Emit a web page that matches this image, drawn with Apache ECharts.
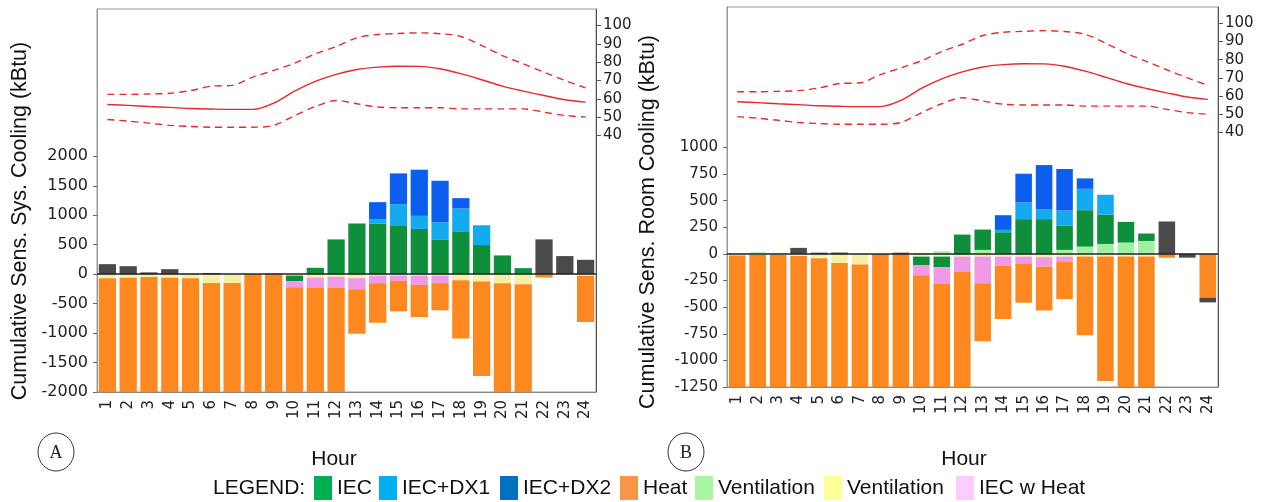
<!DOCTYPE html>
<html><head><meta charset="utf-8">
<script src="https://cdn.jsdelivr.net/npm/echarts@6/dist/echarts.min.js"></script>
<style>html,body{margin:0;padding:0;background:#fff}#c{width:1264px;height:502px}</style>
</head><body><div id="c"></div>
<script>
// ---------- data ----------
const hours = ['1','2','3','4','5','6','7','8','9','10','11','12','13','14','15','16','17','18','19','20','21','22','23','24'];
const leftTicksA = [-2000,-1500,-1000,-500,0,500,1000,1500,2000];
const leftTicksB = [-1250,-1000,-750,-500,-250,0,250,500,750,1000];
const tempTicks = [40,50,60,70,80,90,100];

// outdoor temperature (right axis)
const tempMid  = [56.9,56.4,55.8,55.3,54.7,54.4,54.2,54.2,57.6,64.2,69.5,73.3,76.0,77.3,77.8,77.7,76.4,73.7,70.4,66.9,64.2,61.8,59.5,58.2];
const tempHigh = [62.4,62.4,62.6,63.0,64.5,66.9,67.3,71.8,75.5,79.4,84.5,88.5,93.3,95.1,95.6,96.0,95.5,94.0,89.1,83.6,79.1,74.5,70.0,66.0];
const tempLow  = [48.7,47.8,46.7,45.5,44.9,44.5,44.5,44.5,45.5,50.8,55.8,59.1,57.3,55.5,55.1,55.1,55.1,54.5,54.5,54.5,54.5,52.7,50.9,50.0];

// Panel A: Cumulative Sens. Sys. Cooling (kBtu)
const aVentG   = [0,0,0,0,0,0,0,0,0,0,0,0,0,0,0,0,0,0,0,0,0,0,0,0];
const aVentY   = [-70,-60,-50,-60,-70,-150,-150,0,0,-25,-57,-45,-68,-25,-25,-25,-25,-102,-125,-153,-170,0,0,-28];
const aIEC     = [0,0,0,0,0,0,0,0,0,-97,108,590,858,858,830,767,591,716,494,318,102,0,0,0];
const aIECHeat = [0,0,0,0,0,0,0,0,0,-102,-170,-182,-188,-128,-89,-157,-128,0,0,0,0,0,0,0];
const aDX1     = [0,0,0,0,0,0,0,0,0,0,0,0,0,74,357,222,290,398,336,0,0,0,0,0];
const aDX2     = [0,0,0,0,0,0,0,0,0,0,0,0,0,290,523,784,704,176,0,0,0,0,0,0];
const aHeat    = [-1930,-1940,-1950,-1940,-1930,-1850,-1850,-2000,-2000,-1776,-1773,-1773,-755,-671,-517,-545,-461,-989,-1602,-1847,-1830,-57,0,-784];
const aOther   = [170,135,30,85,8,20,0,0,8,0,0,0,0,0,0,0,0,0,0,0,0,590,307,244];

// Panel B: Cumulative Sens. Room Cooling (kBtu)
const bVentG   = [5,15,10,0,0,0,0,0,0,8,25,0,38,0,0,0,38,69,94,107,122,0,0,0];
const bVentY   = [-15,-10,-10,-20,-40,-85,-100,0,0,-25,-25,-25,-25,-25,-25,-30,-25,-25,-25,-25,-25,0,0,0];
const bIEC     = [0,0,0,0,0,0,0,0,0,-79,-101,182,191,204,327,327,226,342,276,194,70,0,0,0];
const bIECHeat = [0,0,0,0,0,0,0,0,0,-97,-157,-145,-251,-85,-63,-89,-50,0,0,0,0,0,0,0];
const bDX1     = [0,0,0,0,0,0,0,0,0,0,0,0,0,22,157,94,144,201,186,0,0,0,0,0];
const bDX2     = [0,0,0,0,0,0,0,0,0,0,0,0,0,138,270,414,390,98,0,0,0,0,0,0];
const bHeat    = [-1235,-1240,-1240,-1230,-1210,-1165,-1150,-1250,-1250,-1049,-967,-1080,-544,-502,-370,-412,-349,-738,-1168,-1225,-1225,-35,0,-411];
const bOther   = [0,0,0,57,12,13,0,0,12,0,0,0,0,0,0,0,0,0,0,0,0,305,-35,-44];

// ---------- styles ----------
const C = {IEC:'#0f8f3c', DX1:'#14aaf0', DX2:'#0c5fee', Heat:'#fd8820', VentG:'#a0f0a2', VentY:'#f6f0a4', Pink:'#f09ae6', Other:'#4a4a4a'};
const LC = {IEC:'#00b050', DX1:'#00b0f0', DX2:'#0070c0', Heat:'#f79646', VentG:'#a9f5a2', VentY:'#ffff99', Pink:'#ffccff'};
const RED = '#e8282e';
const AXF = 'DejaVu Sans';

function barSeries(panel, name, color, data, extra) {
  const s = {
    type:'bar', name:name, stack:'s'+panel, data:data,
    xAxisIndex:panel, yAxisIndex:panel*2,
    barWidth: panel===0 ? '83%' : '81%',
    itemStyle:{color:color}, clip:true, silent:true
  };
  return Object.assign(s, extra||{});
}
function lineSeries(panel, data, dashed) {
  return {
    type:'line', data:data, xAxisIndex:panel, yAxisIndex:panel*2+1,
    showSymbol:false, symbol:'none', smooth:0.3, silent:true, z:5,
    lineStyle:{color:RED, width:1.4, type: dashed ? [7,5] : 'solid'}
  };
}
const zeroLine = {silent:true, symbol:'none', label:{show:false},
  lineStyle:{color:'#222', width:1.6, type:'solid'}, data:[{yAxis:0}]};

function panelSeries(p, d) {
  return [
    barSeries(p,'Ventilation',C.VentG,d.ventG,{markLine:zeroLine}),
    barSeries(p,'Ventilation ',C.VentY,d.ventY),
    barSeries(p,'IEC',C.IEC,d.iec),
    barSeries(p,'IEC w Heat',C.Pink,d.pink),
    barSeries(p,'IEC+DX1',C.DX1,d.dx1),
    barSeries(p,'IEC+DX2',C.DX2,d.dx2),
    barSeries(p,'Heat',C.Heat,d.heat),
    barSeries(p,'Other',C.Other,d.other),
    lineSeries(p,tempHigh,true),
    lineSeries(p,tempMid,false),
    lineSeries(p,tempLow,true)
  ];
}

const plain = function(v){ return String(v); };
const grids = [
  {left:97, top:9, width:499, height:383, show:true, borderColor:'#999', borderWidth:1},
  {left:727, top:7, width:491, height:380, show:true, borderColor:'#999', borderWidth:1}
];
function xAxis(i){
  return {type:'category', gridIndex:i, data:hours, boundaryGap:true,
    axisLine:{onZero:false, lineStyle:{color:'#888'}},
    axisTick:{alignWithLabel:true, length:4, lineStyle:{color:'#666'}},
    axisLabel:{rotate:90, margin:8, fontSize:15, fontFamily:AXF, color:'#222', interval:0},
    splitLine:{show:false}};
}
function leftAxis(i, min, max, ticks, fs){
  return {type:'value', gridIndex:i, position:'left', min:min, max:max,
    axisLine:{show:true, lineStyle:{color:'#999'}},
    axisTick:{show:true, length:4, customValues:ticks, lineStyle:{color:'#666'}},
    axisLabel:{customValues:ticks, formatter:plain, fontSize:fs, fontFamily:AXF, color:'#222', margin:9},
    splitLine:{show:false}};
}
function rightAxis(i){
  return {type:'value', gridIndex:i, position:'right', min:-100, max:109,
    axisLine:{show:true, lineStyle:{color:'#555'}},
    axisTick:{show:true, length:5, customValues:tempTicks, lineStyle:{color:'#555'}},
    axisLabel:{customValues:tempTicks, formatter:plain, fontSize:15, fontFamily:AXF, color:'#222', margin:7},
    splitLine:{show:false}};
}

// legend built from graphic elements (two distinct "Ventilation" entries)
const legendItems = [
  ['IEC', LC.IEC, 314], ['IEC+DX1', LC.DX1, 379], ['IEC+DX2', LC.DX2, 500],
  ['Heat', LC.Heat, 620], ['Ventilation', LC.VentG, 695], ['Ventilation', LC.VentY, 824],
  ['IEC w Heat', LC.Pink, 956]
];
const TXT = 'Liberation Sans';
const graphics = [
  {type:'text', x:20, y:221, rotation:Math.PI/2,
   style:{text:'Cumulative Sens. Sys. Cooling (kBtu)', font:'21.5px '+TXT, fill:'#111', textAlign:'center', textVerticalAlign:'middle'}},
  {type:'text', x:648, y:222, rotation:Math.PI/2,
   style:{text:'Cumulative Sens. Room Cooling (kBtu)', font:'21.5px '+TXT, fill:'#111', textAlign:'center', textVerticalAlign:'middle'}},
  {type:'text', x:334, y:459, style:{text:'Hour', font:'21px '+TXT, fill:'#111', textAlign:'center', textVerticalAlign:'middle'}},
  {type:'text', x:964, y:459, style:{text:'Hour', font:'21px '+TXT, fill:'#111', textAlign:'center', textVerticalAlign:'middle'}},
  {type:'ellipse', shape:{cx:56, cy:452, rx:18, ry:19}, style:{fill:'none', stroke:'#333', lineWidth:1}},
  {type:'text', x:56, y:453, style:{text:'A', font:'18px Liberation Serif', fill:'#222', textAlign:'center', textVerticalAlign:'middle'}},
  {type:'ellipse', shape:{cx:686, cy:452, rx:18, ry:19}, style:{fill:'none', stroke:'#333', lineWidth:1}},
  {type:'text', x:686, y:453, style:{text:'B', font:'18px Liberation Serif', fill:'#222', textAlign:'center', textVerticalAlign:'middle'}},
  {type:'text', x:213, y:488, style:{text:'LEGEND:', font:'21px '+TXT, fill:'#111', textAlign:'left', textVerticalAlign:'middle'}}
];
legendItems.forEach(function(it){
  graphics.push({type:'rect', shape:{x:it[2], y:476, width:18, height:24}, style:{fill:it[1]}});
  graphics.push({type:'text', x:it[2]+23, y:488, style:{text:it[0], font:'21px '+TXT, fill:'#111', textAlign:'left', textVerticalAlign:'middle'}});
});

const chart = echarts.init(document.getElementById('c'), null, {renderer:'canvas'});
chart.setOption({
  animation:false,
  backgroundColor:'#fff',
  grid:grids,
  xAxis:[xAxis(0), xAxis(1)],
  yAxis:[leftAxis(0,-2000,4500,leftTicksA,16), rightAxis(0), leftAxis(1,-1250,2320,leftTicksB,15), rightAxis(1)],
  series: panelSeries(0,{ventG:aVentG,ventY:aVentY,iec:aIEC,pink:aIECHeat,dx1:aDX1,dx2:aDX2,heat:aHeat,other:aOther})
    .concat(panelSeries(1,{ventG:bVentG,ventY:bVentY,iec:bIEC,pink:bIECHeat,dx1:bDX1,dx2:bDX2,heat:bHeat,other:bOther})),
  graphic:graphics
});
</script>
</body></html>
